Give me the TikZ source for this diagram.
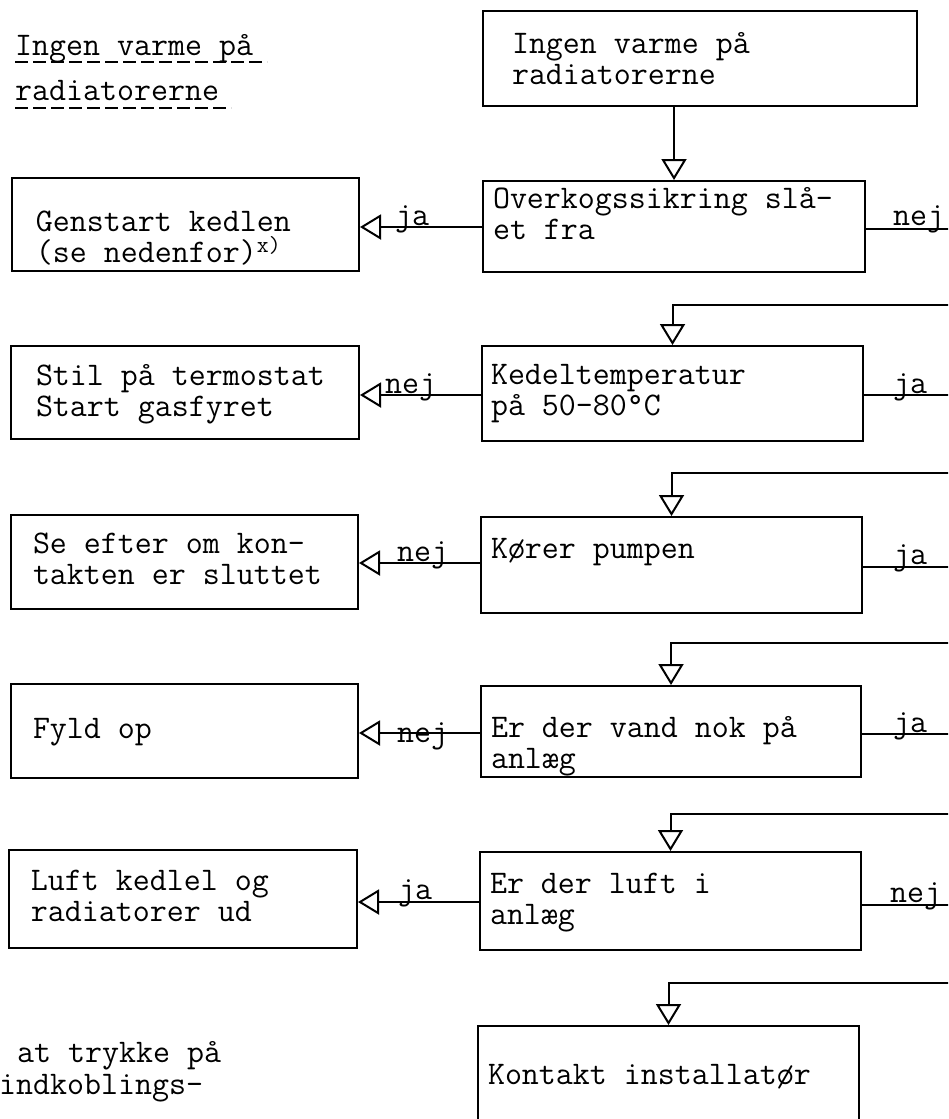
\documentclass[tikz,border=0pt]{standalone}
\usepackage{fontspec}
\usetikzlibrary{arrows.meta}

% box contents: #1 width, #2 height, #3 first baseline below top, #4 indent, #5 text
\newcommand\boxtext[5]{%
  \parbox[c][#2][t]{#1}{\vspace*{\dimexpr#3-27pt\relax}\raggedright\leftskip=#4\relax
    \rule{0pt}{27pt}#5}}

\begin{document}
\begin{tikzpicture}[x=1pt,y=-1pt,
  font=\ttfamily\fontsize{33pt}{31pt}\selectfont,
  box/.style={draw, line width=2pt, inner sep=0pt, anchor=north west},
  con/.style={line width=2pt,
    -{Triangle[open, length=21pt, width=25pt, line width=2pt]}},
  lbl/.style={inner sep=0pt, anchor=base west}]

\useasboundingbox (0,0) rectangle (948,1119);
\clip (0,0) rectangle (948,1119);

% heading with typed dashed underline
\node[lbl] (head1) at (15,55) {Ingen varme på};
\node[lbl] (head2) at (15,100) {radiatorerne};
\draw[line width=2.2pt, dash pattern=on 13pt off 5pt] (head1.base west) ++(0,7) -- ++(252,0);
\draw[line width=2.2pt, dash pattern=on 13pt off 5pt] (head2.base west) ++(0,8) -- ++(216,0);

% question column
\node[box] (top) at (482,10) {\boxtext{434pt}{95pt}{42pt}{29pt}{Ingen varme på\\radiatorerne}};
\node[box] (q2) at (482,180) {\boxtext{382pt}{91pt}{27pt}{10pt}{Overkogssikring slå-\\et fra}};
\node[box] (q3) at (481,345) {\boxtext{381pt}{95pt}{38pt}{9pt}{Kedeltemperatur\\på 50-80°C}};
\node[box] (q4) at (480,516) {\boxtext{381pt}{96pt}{41pt}{10pt}{Kører pumpen}};
\node[box] (q5) at (480,685) {\boxtext{380pt}{91pt}{51pt}{10pt}{Er der vand nok på\\anlæg}};
\node[box] (q6) at (479,851) {\boxtext{381pt}{98pt}{41pt}{10pt}{Er der luft i\\anlæg}};
\node[box] (q7) at (477,1025) {\boxtext{381pt}{130pt}{58pt}{10pt}{Kontakt installatør}};

% action column
\node[box] (a2) at (11,177) {\boxtext{347pt}{93pt}{53pt}{24pt}{Genstart kedlen\\(se nedenfor)\textsuperscript{x)}}};
\node[box] (a3) at (10,345) {\boxtext{348pt}{93pt}{39pt}{25pt}{Stil på termostat\\Start gasfyret}};
\node[box] (a4) at (10,514) {\boxtext{347pt}{94pt}{38pt}{22pt}{Se efter om kon-\\takten er sluttet}};
\node[box] (a5) at (10,683) {\boxtext{347pt}{94pt}{54pt}{22pt}{Fyld op}};
\node[box] (a6) at (8,849) {\boxtext{348pt}{98pt}{40pt}{22pt}{Luft kedlel og\\radiatorer ud}};

% footnote text
\node[lbl] (fn1) at (17,1062) {at trykke på};
\node[lbl] (fn2) at (-1,1094) {indkoblings-};

% main flow
\draw[con] (top.south -| q2.north) -- (q2.north);

\draw[con] (q2.west |- 0,227) -- (a2.east |- 0,227);
\draw[con] (q3.west |- 0,395) -- (a3.east |- 0,395);
\draw[con] (q4.west |- 0,563) -- (a4.east |- 0,563);
\draw[con] (q5.west |- 0,733) -- (a5.east |- 0,733);
\draw[con] (q6.west |- 0,902) -- (a6.east |- 0,902);

\draw[con] (q2.east |- 0,229) -- (975,229) -- (975,305) -- (q3.north |- 0,305) -- (q3.north);
\draw[con] (q3.east |- 0,395) -- (975,395) -- (975,473) -- (q4.north |- 0,473) -- (q4.north);
\draw[con] (q4.east |- 0,567) -- (975,567) -- (975,643) -- (q5.north |- 0,643) -- (q5.north);
\draw[con] (q5.east |- 0,734) -- (975,734) -- (975,814) -- (q6.north |- 0,814) -- (q6.north);
\draw[con] (q6.east |- 0,905) -- (975,905) -- (975,983) -- (q7.north |- 0,983) -- (q7.north);

% branch labels
\node[lbl] (l2a) at (395,225) {ja};
\node[lbl] (l2b) at (893,225) {nej};
\node[lbl] (l3a) at (385,393) {nej};
\node[lbl] (l3b) at (893,393) {ja};
\node[lbl] (l4a) at (397,561) {nej};
\node[lbl] (l4b) at (893,564) {ja};
\node[lbl] (l5a) at (397,742) {nej};
\node[lbl] (l5b) at (893,732) {ja};
\node[lbl] (l6a) at (398,899) {ja};
\node[lbl] (l6b) at (890,902) {nej};
\end{tikzpicture}
\end{document}
